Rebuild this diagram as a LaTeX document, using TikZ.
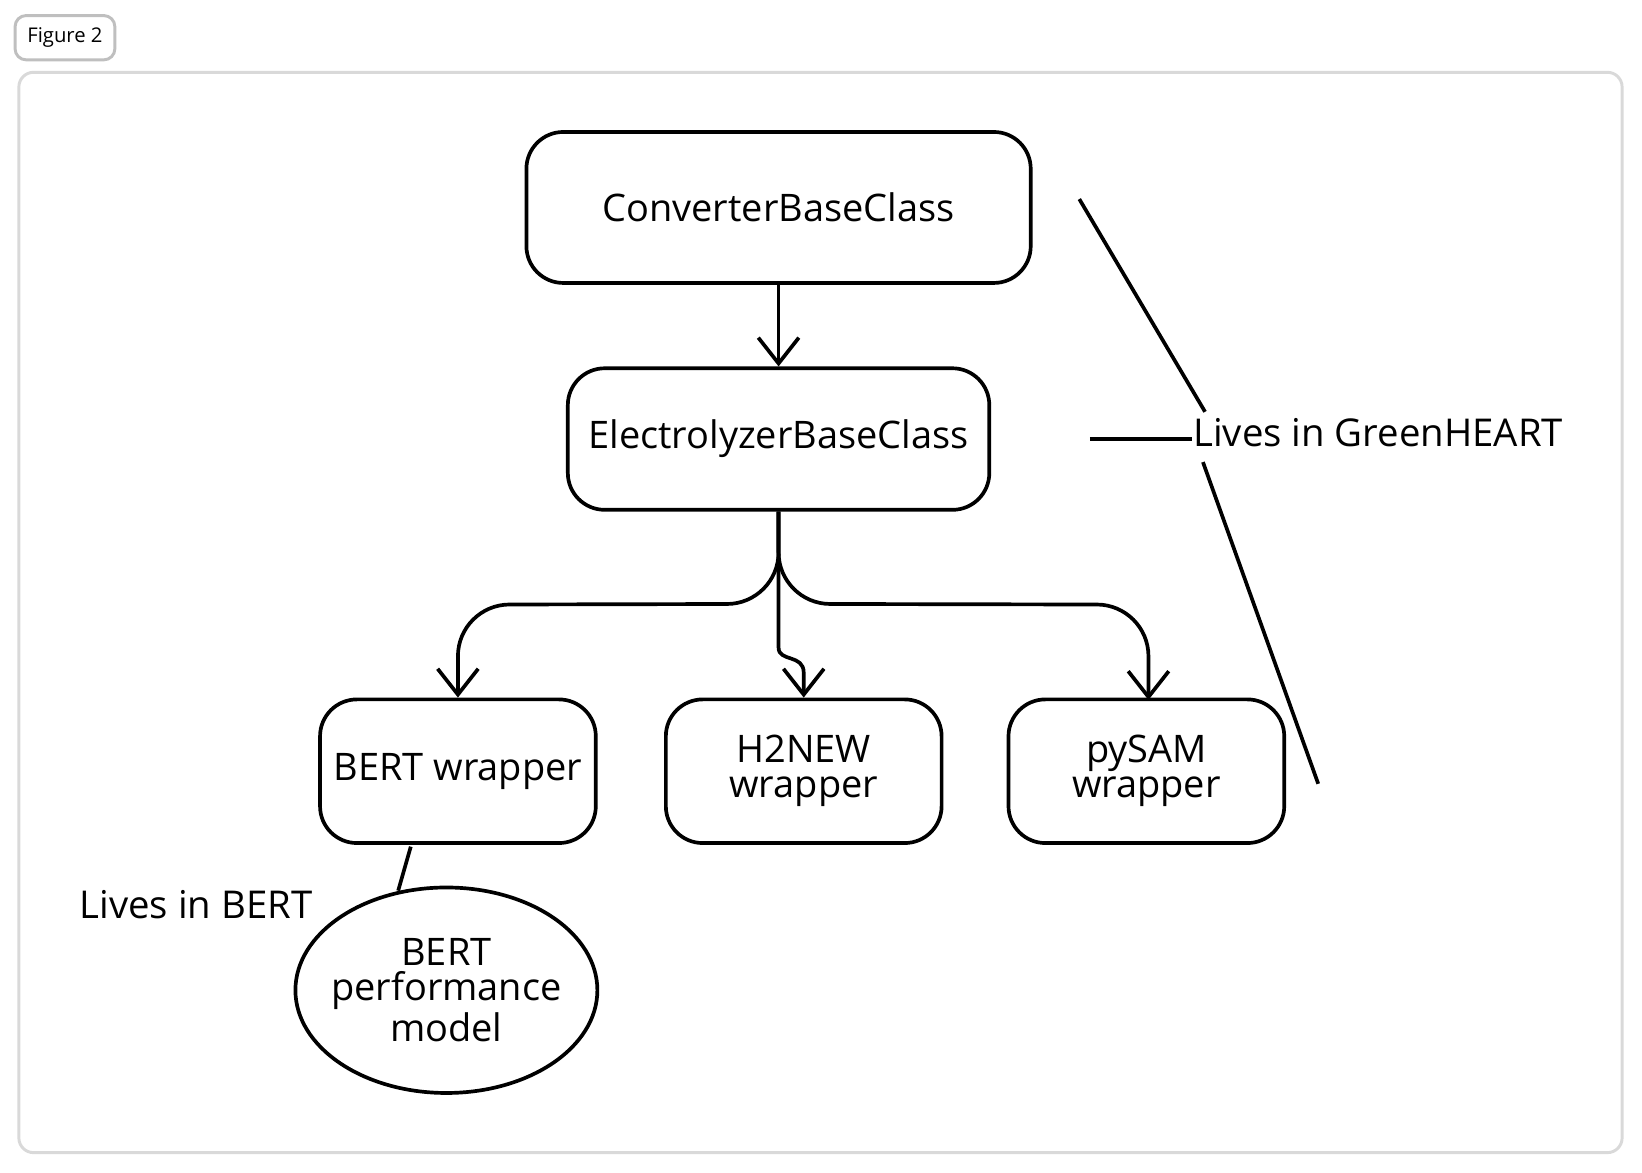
\documentclass[tikz,border=0pt]{standalone}
\usepackage{fontspec}
\setmainfont{Open Sans}
\usetikzlibrary{arrows.meta,shapes.geometric,positioning}
\tikzstyle{block}=[draw, rounded corners=10pt, line width=1pt,
                   align=center, inner sep=0pt, font=\fontsize{10.3}{9.5}\selectfont]
\tikzstyle{link} =[line width=1pt, rounded corners=14pt,
                   -{Straight Barb[length=7pt,width=11pt]}]
\tikzstyle{tag}  =[font=\fontsize{10.4}{11}\selectfont, inner sep=0pt]
\begin{document}
\begin{tikzpicture}[x=0.01cm, y=-0.01cm]
    \useasboundingbox (0,0) rectangle (1567,1119);
    % frames
    \node[draw=black!25, rounded corners=3pt, line width=0.8pt, minimum width=0.89cm,
          minimum height=0.36cm, font=\fontsize{5.5}{6}\selectfont] (fig) at (62,36) {Figure 2};
    \draw[black!15, rounded corners=4pt, line width=0.8pt] (18,69) rectangle (1548,1100);
    % classes
    \node[block, minimum width=4.81cm, minimum height=1.44cm] (conv) at (743,198) {ConverterBaseClass};
    \node[block, minimum width=4.02cm, minimum height=1.35cm] (elec) at (743,419) {ElectrolyzerBaseClass};
    \foreach \n/\x/\t in {bert/437/BERT wrapper, h2new/767/H2NEW\\wrapper, pysam/1094/pySAM\\wrapper}
        \node[block, minimum width=2.63cm, minimum height=1.37cm] (\n) at (\x,736) {\t};
    \node[draw, ellipse, line width=1pt, minimum width=2.88cm, minimum height=1.96cm,
          align=center, inner xsep=-4pt, inner ysep=-8pt, font=\fontsize{10.3}{9.5}\selectfont] (model) at (426,945) {BERT\\performance\\model};
    % arrows
    \draw[link] (conv) -- (elec);
    \draw[link] (elec.south) -- ++(0,88) -- (437,577) -- (bert.north);
    \draw[link] (elec.south) -- ++(0,88) -- (1096,577) -- (1096,668);
    \draw[link, rounded corners=0pt] (elec.south) -- (743,618)
        .. controls (743,632) and (767,624) .. (767,642) -- (h2new.north);
    % notes
    \coordinate (b1) at (392,808);
    \coordinate (b2) at (380,850);
    \draw[line width=1pt] (b1) -- (b2);
    \node[tag] (livesbert) at (187,863) {Lives in BERT};
    \coordinate (g1) at (1030,190);
    \coordinate (g2) at (1150,393);
    \coordinate (g3) at (1148,441);
    \coordinate (g4) at (1258,748);
    \coordinate (g5) at (1040,419);
    \node[tag, anchor=west] (livesgh) at (1138,413) {Lives in GreenHEART};
    \draw[line width=1pt] (g1) -- (g2);
    \draw[line width=1pt] (g3) -- (g4);
    \draw[line width=1pt] (g5) -- (livesgh.west |- g5);
\end{tikzpicture}
\end{document}
